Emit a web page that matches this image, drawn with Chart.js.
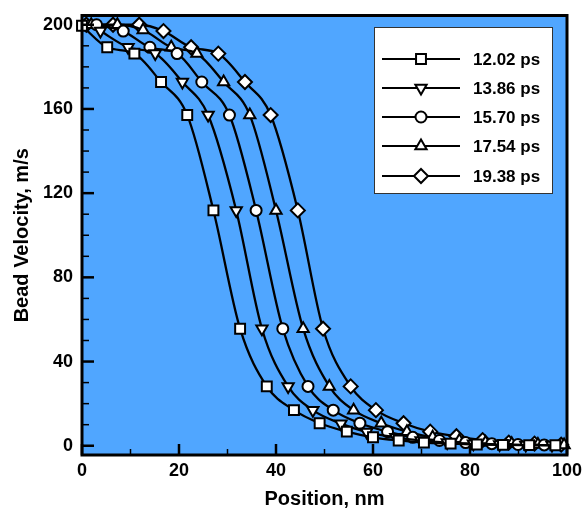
<!DOCTYPE html>
<html>
<head>
<meta charset="utf-8">
<script src="https://cdn.jsdelivr.net/npm/chart.js@4.4.1/dist/chart.umd.min.js"></script>
<style>
  html, body { margin: 0; padding: 0; background: #fff; }
</style>
</head>
<body>
<canvas id="beadChart" width="582" height="509"></canvas>
<script>
// series labels (time)
const seriesLabels = ['12.02 ps', '13.86 ps', '15.70 ps', '17.54 ps', '19.38 ps'];

// one marker per point
const pos1202 = [0, 5.2, 10.8, 16.3, 21.7, 27.1, 32.6, 38.1, 43.7, 49.0, 54.6, 60.0, 65.3, 70.5, 76.0, 81.4, 86.8, 92.2, 97.6];
const vel1202 = [199.5, 189.3, 186.3, 172.8, 157.1, 111.8, 55.6, 28.2, 16.9, 10.7, 6.7, 4.0, 2.5, 1.5, 1.0, 0.6, 0.4, 0.3, 0.2];

const pos1386 = [3.8, 9.5, 15.1, 20.7, 26.0, 31.8, 37.1, 42.5, 47.6, 53.4, 58.7, 64.7, 69.9, 75.3, 80.7, 86.1, 91.5, 96.9];
const vel1386 = [197, 189.3, 186.3, 172.8, 157.1, 111.8, 55.6, 28.2, 16.9, 10.5, 6.5, 4.0, 2.5, 1.5, 1.0, 0.6, 0.4, 0.3];

const pos1570 = [3.0, 8.5, 14.0, 19.6, 24.7, 30.4, 35.9, 41.4, 46.6, 51.8, 57.3, 63.0, 68.2, 73.7, 79.1, 84.5, 89.9, 95.3];
const vel1570 = [200, 197, 189.3, 186.3, 172.8, 157.1, 111.8, 55.6, 28.2, 16.9, 10.7, 6.7, 4.0, 2.5, 1.5, 1.0, 0.6, 0.4];

const pos1754 = [1.9, 7.3, 12.6, 18.4, 23.7, 29.2, 34.6, 40.0, 45.6, 51.0, 56.0, 61.7, 67.0, 72.3, 77.8, 83.2, 88.6, 94.0, 99.4];
const vel1754 = [200, 200, 197.5, 189.3, 186.3, 172.8, 157.1, 111.8, 55.6, 28.2, 16.9, 10.7, 6.7, 4.0, 2.5, 1.5, 1.0, 0.6, 0.4];

const pos1938 = [0.9, 6.4, 11.8, 16.8, 22.5, 28.1, 33.6, 38.9, 44.5, 49.7, 55.4, 60.6, 66.3, 71.8, 77.2, 82.6, 88.0, 93.3, 98.8];
const vel1938 = [200, 200, 200, 197, 189.3, 186.3, 172.8, 157.1, 111.8, 55.6, 28.2, 16.9, 10.7, 6.7, 4.5, 2.7, 1.5, 1.0, 0.5];

// axis ticks
const xTicks = [0, 20, 40, 60, 80, 100];
const xMinorTicks = [10, 30, 50, 70, 90];
const yTicks = [0, 40, 80, 120, 160, 200];
const yMinorTicks = [10, 20, 30, 50, 60, 70, 90, 100, 110, 130, 140, 150, 170, 180, 190];

const plotBlue = 'rgb(80,166,255)';
const boldFont = size => ({ family: 'Arial, "Liberation Sans", sans-serif', size: size, weight: 'bold' });

const markers = [
    { pointStyle: 'rect', radius: 7, rotation: 0 },
    { pointStyle: 'triangle', radius: 6.5, rotation: 180 },
    { pointStyle: 'circle', radius: 5.5, rotation: 0 },
    { pointStyle: 'triangle', radius: 6.5, rotation: 0 },
    { pointStyle: 'rectRot', radius: 7, rotation: 0 }
];

const allPos = [pos1202, pos1386, pos1570, pos1754, pos1938];
const allVel = [vel1202, vel1386, vel1570, vel1754, vel1938];

const datasets = seriesLabels.map((label, i) => ({
    label: label,
    data: allPos[i].map((x, j) => ({ x: x, y: allVel[i][j] })),
    borderColor: '#000',
    borderWidth: 2.3,
    backgroundColor: '#fff',
    pointBackgroundColor: '#fff',
    pointBorderColor: '#000',
    pointBorderWidth: 2,
    pointStyle: markers[i].pointStyle,
    pointRadius: markers[i].radius,
    pointRotation: markers[i].rotation,
    cubicInterpolationMode: 'monotone',
    fill: false,
    clip: false
}));

// blue plot area behind everything
const plotBackground = {
    id: 'plotBackground',
    beforeDraw(chart) {
        const { ctx, chartArea: a } = chart;
        ctx.save();
        ctx.fillStyle = plotBlue;
        ctx.fillRect(a.left, a.top, a.right - a.left, a.bottom - a.top);
        ctx.restore();
    }
};

// frame and inward ticks
const frameTicks = {
    id: 'frameTicks',
    afterDatasetsDraw(chart) {
        const { ctx, chartArea: a, scales } = chart;
        ctx.save();
        ctx.strokeStyle = '#000';
        ctx.lineCap = 'butt';

        const tick = (x1, y1, x2, y2, w) => {
            ctx.lineWidth = w;
            ctx.beginPath();
            ctx.moveTo(x1, y1);
            ctx.lineTo(x2, y2);
            ctx.stroke();
        };
        yTicks.forEach(v => { const p = scales.y.getPixelForValue(v); tick(a.left, p, a.left + 12, p, 2.5); });
        yMinorTicks.forEach(v => { const p = scales.y.getPixelForValue(v); tick(a.left, p, a.left + 7, p, 1.5); });
        xTicks.forEach(v => { const p = scales.x.getPixelForValue(v); tick(p, a.bottom, p, a.bottom - 11, 2.5); });
        xMinorTicks.forEach(v => { const p = scales.x.getPixelForValue(v); tick(p, a.bottom, p, a.bottom - 6, 1.5); });

        ctx.lineWidth = 3;
        ctx.strokeRect(a.left, a.top, a.right - a.left, a.bottom - a.top);
        ctx.restore();
    }
};

// boxed legend inside the plot
const boxLegend = {
    id: 'boxLegend',
    afterDraw(chart) {
        const ctx = chart.ctx;
        const box = { left: 374, top: 27, width: 178, height: 166 };
        const rowY = [59, 88, 117, 146, 176];
        ctx.save();
        ctx.fillStyle = '#fff';
        ctx.fillRect(box.left, box.top, box.width, box.height);
        ctx.strokeStyle = '#333';
        ctx.lineWidth = 1;
        ctx.strokeRect(box.left + 0.5, box.top + 0.5, box.width, box.height);

        chart.data.datasets.forEach((ds, i) => {
            const y = rowY[i];
            ctx.strokeStyle = '#000';
            ctx.lineWidth = 2;
            ctx.beginPath();
            ctx.moveTo(382, y);
            ctx.lineTo(460, y);
            ctx.stroke();

            ctx.fillStyle = '#fff';
            ctx.strokeStyle = '#000';
            ctx.lineWidth = 2;
            Chart.helpers.drawPoint(ctx, {
                pointStyle: ds.pointStyle,
                rotation: ds.pointRotation,
                radius: ds.pointRadius,
                borderWidth: 2
            }, 421, y);

            ctx.fillStyle = '#000';
            ctx.font = 'bold 17px Arial, "Liberation Sans", sans-serif';
            ctx.textAlign = 'left';
            ctx.textBaseline = 'middle';
            ctx.fillText(ds.label, 473, y + 1);
        });
        ctx.restore();
    }
};

const ctx = document.getElementById('beadChart').getContext('2d');
const beadChart = new Chart(ctx, {
    type: 'line',
    data: { datasets: datasets },
    options: {
        responsive: false,
        devicePixelRatio: 1,
        animation: false,
        layout: { padding: { left: 0, right: 15, top: 15.5, bottom: 0 } },
        plugins: {
            legend: { display: false },
            tooltip: { enabled: false }
        },
        scales: {
            x: {
                type: 'linear',
                min: 0,
                max: 100,
                afterBuildTicks: scale => { scale.ticks = xTicks.map(v => ({ value: v })); },
                afterFit: scale => {
                    scale.height = 54;
                    scale.paddingLeft = 0;
                    scale.paddingRight = 0;
                },
                grid: { display: false, drawTicks: false },
                border: { display: false },
                ticks: { color: '#000', font: boldFont(18), padding: 5, maxRotation: 0, autoSkip: false },
                title: { display: true, text: 'Position, nm', color: '#000', font: boldFont(20), padding: { top: 0, bottom: -2 } }
            },
            y: {
                type: 'linear',
                min: -4.4,
                max: 204.4,
                afterBuildTicks: scale => { scale.ticks = yTicks.map(v => ({ value: v })); },
                afterFit: scale => {
                    scale.width = 82;
                    scale.paddingTop = 0;
                    scale.paddingBottom = 0;
                },
                grid: { display: false, drawTicks: false },
                border: { display: false },
                ticks: { color: '#000', font: boldFont(18), padding: 9, autoSkip: false },
                title: { display: true, text: 'Bead Velocity, m/s', color: '#000', font: boldFont(20), padding: { top: 10, bottom: 0 } }
            }
        }
    },
    plugins: [plotBackground, frameTicks, boxLegend]
});
</script>
</body>
</html>
